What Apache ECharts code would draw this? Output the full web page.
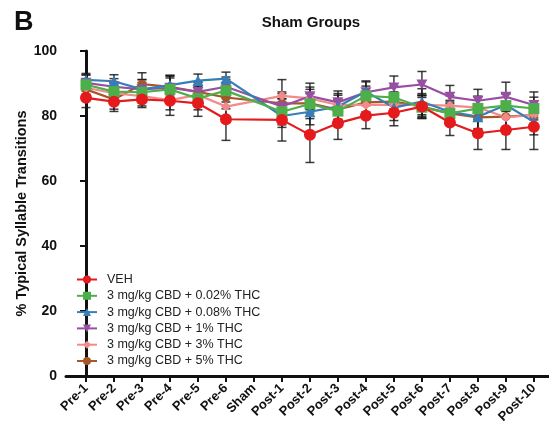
<!DOCTYPE html>
<html>
<head>
<meta charset="utf-8">
<script src="https://cdn.jsdelivr.net/npm/echarts@6/dist/echarts.min.js"></script>
<style>
html,body{margin:0;padding:0;background:#fff;}
#chart{width:549px;height:432px;}
</style>
</head>
<body>
<div id="chart"></div>
<script>
const categories = ["Pre-1","Pre-2","Pre-3","Pre-4","Pre-5","Pre-6","Sham","Post-1","Post-2","Post-3","Post-4","Post-5","Post-6","Post-7","Post-8","Post-9","Post-10"];
const yTicks = [0, 20, 40, 60, 80, 100];

const seriesNames = ["VEH","3 mg/kg CBD + 0.02% THC","3 mg/kg CBD + 0.08% THC","3 mg/kg CBD + 1% THC","3 mg/kg CBD + 3% THC","3 mg/kg CBD + 5% THC"];

const vehMean   = [85.6, 84.4, 85.1, 84.7, 83.9, 79.0, null, 78.8, 74.2, 77.8, 80.1, 81.0, 82.9, 78.0, 74.7, 75.7, 76.7];
const thc002Mean = [89.6, 87.5, 87.3, 88.2, 85.4, 87.8, null, 81.3, 83.7, 81.5, 86.2, 85.7, 82.7, 80.8, 82.3, 83.2, 82.3];
const thc008Mean = [91.1, 90.7, 88.2, 89.5, 90.9, 91.5, null, 80.0, 81.3, 82.9, 87.5, 82.6, 84.4, 81.3, 79.8, 83.4, 78.2];
const thc1Mean   = [90.2, 89.0, 88.2, 88.7, 87.4, 89.0, null, 82.9, 86.1, 84.2, 87.3, 88.8, 89.7, 85.9, 84.7, 85.9, 83.4];
const thc3Mean   = [88.7, 87.0, 86.1, 84.9, 86.5, 82.9, null, 86.2, 85.4, 83.4, 83.4, 83.4, 83.4, 83.2, 82.6, 79.6, 80.3];
const thc5Mean   = [88.2, 85.1, 89.8, 89.0, 87.4, 85.7, null, 83.9, 83.9, 82.0, 84.2, 84.4, 82.9, 80.8, 79.6, 79.8, 80.3];

const vehErr    = [3.0, 3.0, 2.5, 4.5, 4.0, 6.5, null, 6.5, 8.5, 5.0, 4.0, 4.0, 3.5, 4.0, 5.0, 6.0, 7.0];
const thc002Err = [3.0, 3.0, 3.0, 4.0, 3.5, 3.5, null, 4.0, 4.5, 3.5, 3.0, 3.5, 3.5, 3.5, 3.5, 3.5, 3.5];
const thc008Err = [2.0, 2.0, 3.0, 3.0, 2.0, 2.0, null, 3.5, 4.0, 4.0, 3.0, 4.0, 4.0, 3.5, 4.0, 3.5, 4.0];
const thc1Err   = [2.5, 2.5, 3.0, 3.0, 3.0, 3.0, null, 4.0, 4.0, 3.5, 3.5, 3.5, 4.0, 3.5, 3.5, 4.5, 4.0];
const thc3Err   = [2.5, 3.0, 3.0, 3.0, 3.0, 4.0, null, 5.0, 3.5, 3.0, 3.0, 3.0, 3.5, 3.0, 3.5, 3.5, 3.0];
const thc5Err   = [3.0, 3.0, 3.5, 3.5, 3.0, 3.5, null, 3.5, 3.0, 3.0, 3.0, 3.0, 3.5, 3.0, 3.5, 3.5, 3.5];

const means = [vehMean, thc002Mean, thc008Mean, thc1Mean, thc3Mean, thc5Mean];
const errs = [vehErr, thc002Err, thc008Err, thc1Err, thc3Err, thc5Err];
const colors = ["#E41A1C", "#4DAF4A", "#377EB8", "#984EA3", "#F38A8A", "#A65628"];
const symbols = ["circle", "rect", "triangle", "path://M0,0 L10,0 L5,9 Z", "diamond", "circle"];
const symbolSizes = [12, 11, 11, [11, 10], 10, 9];

const FONT = "'Liberation Sans', Arial, Helvetica, sans-serif";
const chart = echarts.init(document.getElementById('chart'), null, {renderer: 'canvas'});

const errSeries = [];
const lineSeries = [];
means.forEach((m, s) => {
  const data = [];
  m.forEach((v, i) => { if (v != null) data.push([i, v - errs[s][i], v + errs[s][i]]); });
  errSeries.push({
    type: 'custom',
    name: seriesNames[s] + ' err',
    z: 1,
    silent: true,
    encode: {x: 0, y: [1, 2]},
    data: data,
    renderItem: function (params, api) {
      const x = api.value(0);
      const lo = api.coord([x, api.value(1)]);
      const hi = api.coord([x, api.value(2)]);
      const w = 4.5;
      const st = {stroke: '#1a1a1a', lineWidth: 1.5, opacity: 0.85};
      return {type: 'group', children: [
        {type: 'line', shape: {x1: lo[0], y1: lo[1], x2: hi[0], y2: hi[1]}, style: st},
        {type: 'line', shape: {x1: lo[0] - w, y1: lo[1], x2: lo[0] + w, y2: lo[1]}, style: st},
        {type: 'line', shape: {x1: hi[0] - w, y1: hi[1], x2: hi[0] + w, y2: hi[1]}, style: st}
      ]};
    }
  });
});
means.forEach((m, s) => {
  const data = [];
  m.forEach((v, i) => { if (v != null) data.push([i, v]); });
  lineSeries.push({
    type: 'line',
    name: seriesNames[s],
    z: 3,
    data: data,
    symbol: symbols[s],
    symbolSize: symbolSizes[s],
    showAllSymbol: true,
    connectNulls: true,
    lineStyle: {color: colors[s], width: 2.2},
    itemStyle: {color: colors[s], opacity: 1},
    emphasis: {disabled: true},
    animation: false
  });
});
// VEH drawn last (on top)
lineSeries.reverse();

const tickIdx = categories.map((c, i) => i);

chart.setOption({
  animation: false,
  backgroundColor: '#fff',
  title: [
    {text: 'B', left: 9, top: 4, textStyle: {fontFamily: FONT, fontWeight: 'bold', fontSize: 27, color: '#111'}},
    {text: 'Sham Groups', left: 306, textAlign: 'center', top: 10, textStyle: {fontFamily: FONT, fontWeight: 'bold', fontSize: 15, color: '#111'}}
  ],
  legend: {
    orient: 'vertical',
    left: 71,
    top: 268,
    itemWidth: 20,
    itemHeight: 10,
    itemGap: 3.3,
    data: seriesNames,
    textStyle: {fontFamily: FONT, fontSize: 12.5, color: '#222', padding: [0, 0, 0, 5]}
  },
  grid: {left: 66, right: 0, top: 51, bottom: 56, containLabel: false},
  xAxis: {
    type: 'value',
    min: -0.714,
    max: 16.54,
    splitLine: {show: false},
    axisLine: {show: true, lineStyle: {color: '#111', width: 3}},
    axisTick: {show: true, customValues: tickIdx, length: 6, lineStyle: {color: '#111', width: 2}},
    axisLabel: {
      customValues: tickIdx,
      rotate: 45,
      margin: 10,
      fontFamily: FONT, fontWeight: 'bold', fontSize: 13, color: '#111',
      formatter: function (v) { return categories[Math.round(v)]; }
    }
  },
  yAxis: {
    type: 'value',
    min: yTicks[0],
    max: yTicks[yTicks.length - 1],
    interval: 20,
    name: '% Typical Syllable Transitions',
    nameLocation: 'middle',
    nameGap: 37,
    nameMoveOverlap: false,
    nameTextStyle: {fontFamily: FONT, fontWeight: 'bold', fontSize: 14.5, color: '#111'},
    splitLine: {show: false},
    axisLine: {show: true, lineStyle: {color: '#111', width: 3}},
    axisTick: {show: true, length: 6, lineStyle: {color: '#111', width: 2}},
    axisLabel: {margin: 9, fontFamily: FONT, fontWeight: 'bold', fontSize: 14, color: '#111'}
  },
  series: errSeries.concat(lineSeries)
});
</script>
</body>
</html>
